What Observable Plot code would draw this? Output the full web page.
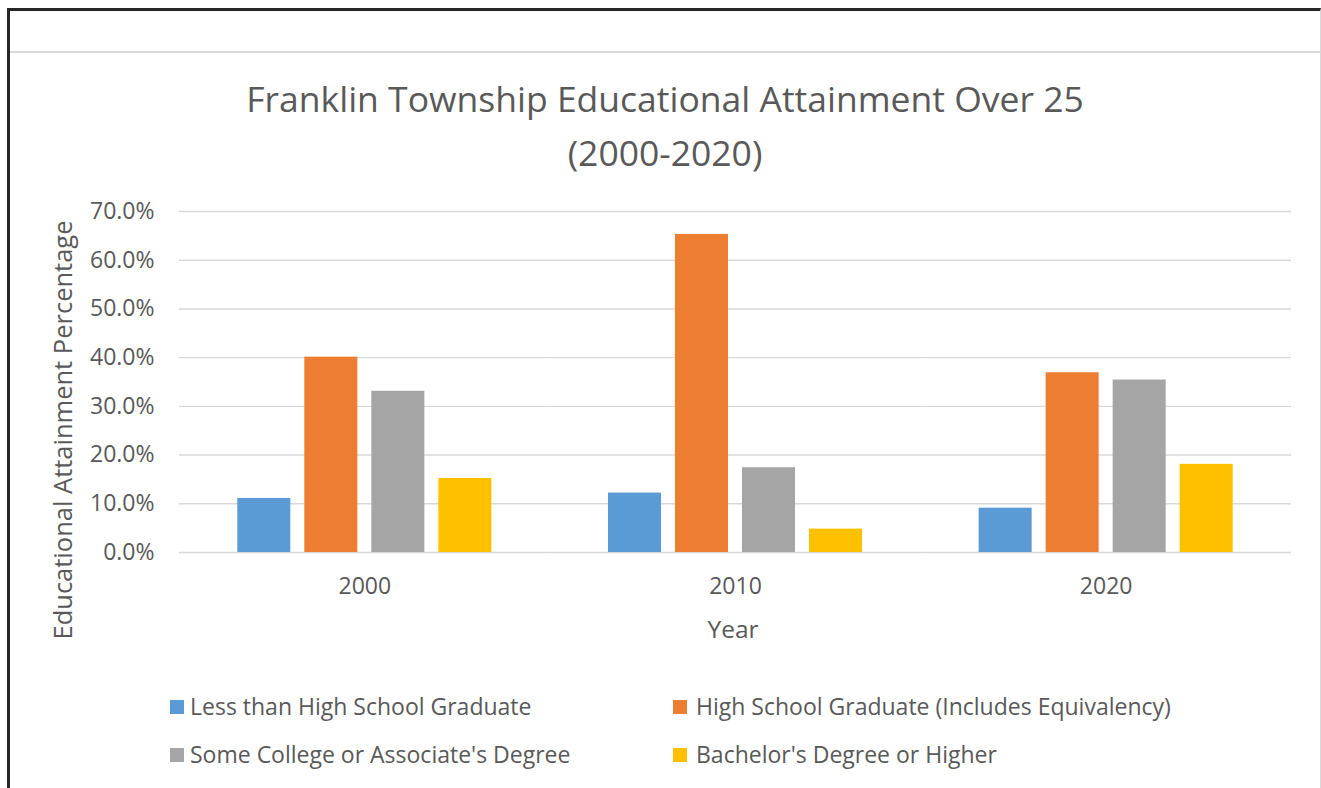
<!DOCTYPE html>
<html>
<head>
<meta charset="utf-8">
<script src="https://cdn.jsdelivr.net/npm/d3@7"></script>
<script src="https://cdn.jsdelivr.net/npm/@observablehq/plot@0.6"></script>
<style>
  html, body { margin: 0; padding: 0; background: #fff; }
  #wrap { position: relative; width: 1321px; height: 788px; overflow: hidden; font-family: "Open Sans", sans-serif; color: #595959; }
  #frame { position: absolute; left: 7px; top: 8px; width: 1310px; height: 800px; border-top: 3px solid #262626; border-left: 3px solid #262626; border-right: 1px solid #d9d9d9; }
  #hline { position: absolute; left: 10px; top: 51px; width: 1310px; height: 2px; background: #dadada; }
  .t { position: absolute; line-height: 1; white-space: nowrap; }
  .title { left: 0; width: 1330px; text-align: center; font-size: 35.5px; }
  #chart { position: absolute; left: 0; top: 190px; }
  .leg { position: absolute; font-size: 23px; line-height: 1; white-space: nowrap; }
  .sw { position: absolute; width: 14px; height: 14px; }
</style>
</head>
<body>
<div id="wrap">
  <div id="frame"></div>
  <div id="hline"></div>
  <div class="t title" style="top:81px">Franklin Township Educational Attainment Over 25</div>
  <div class="t title" style="top:135px">(2000-2020)</div>
  <div class="t" id="ytitle" style="left:63px; top:430px; font-size:25.5px; transform: translate(-50%,-50%) rotate(-90deg);">Educational Attainment Percentage</div>
  <div class="t" style="left:733px; top:617px; font-size:24.5px; transform: translateX(-50%);">Year</div>
  <div id="chart"></div>
  <div id="legend"></div>
</div>
<script>
const years = ["2000", "2010", "2020"];
const categories = [
  "Less than High School Graduate",
  "High School Graduate (Includes Equivalency)",
  "Some College or Associate's Degree",
  "Bachelor's Degree or Higher"
];
const colors = ["#5B9BD5", "#ED7D31", "#A5A5A5", "#FFC000"];
// percentage values per category, by year (2000, 2010, 2020)
const lessThanHS = [11.1, 12.2, 9.1];
const hsGrad = [40.1, 65.3, 36.9];
const someCollege = [33.1, 17.4, 35.4];
const bachelors = [15.2, 4.8, 18.1];
const yTicks = [0, 10, 20, 30, 40, 50, 60, 70];

const series = [lessThanHS, hsGrad, someCollege, bachelors];
const data = [];
years.forEach((yr, i) => {
  categories.forEach((c, j) => data.push({year: yr, category: c, value: series[j][i]}));
});

const chart = Plot.plot({
  width: 1321,
  height: 420,
  marginTop: 21,
  marginBottom: 58,
  marginLeft: 179,
  marginRight: 30,
  style: {fontFamily: "'Open Sans', sans-serif", color: "#595959", background: "transparent"},
  fx: {domain: years, padding: 0, round: false},
  x: {domain: categories, paddingInner: 0.209, paddingOuter: 0.87, round: false, axis: null},
  y: {domain: [0, 70]},
  color: {domain: categories, range: colors},
  marks: [
    Plot.gridY(yTicks, {stroke: "#d9d9d9", strokeOpacity: 1, strokeWidth: 1.4}),
    Plot.barY(data, {fx: "year", x: "category", y: "value", fill: "category"}),
    Plot.axisY(yTicks, {tickSize: 0, tickPadding: 25, fontSize: 23, label: null, tickFormat: d => d.toFixed(1) + "%"}),
    Plot.axisFx({anchor: "bottom", tickSize: 0, tickPadding: 25, fontSize: 23, label: null})
  ]
});
document.getElementById("chart").appendChild(chart);

// legend
const legend = document.getElementById("legend");
const pos = [
  {sx: 170, tx: 190, y: 707},
  {sx: 673, tx: 696, y: 707},
  {sx: 170, tx: 190, y: 755},
  {sx: 673, tx: 696, y: 755}
];
categories.forEach((c, i) => {
  const p = pos[i];
  const sw = document.createElement("div");
  sw.className = "sw";
  sw.style.left = p.sx + "px";
  sw.style.top = (p.y - 7) + "px";
  sw.style.background = colors[i];
  legend.appendChild(sw);
  const t = document.createElement("div");
  t.className = "leg";
  t.style.left = p.tx + "px";
  t.style.top = (p.y - 12) + "px";
  t.textContent = c;
  legend.appendChild(t);
});
</script>
</body>
</html>
